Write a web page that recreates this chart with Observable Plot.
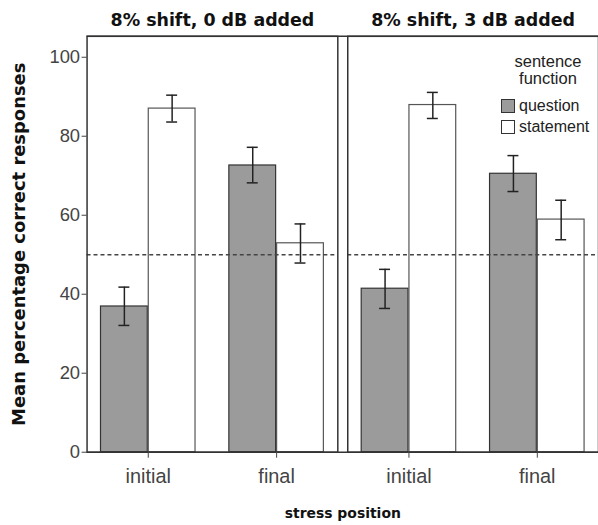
<!DOCTYPE html>
<html>
<head>
<meta charset="utf-8">
<script src="https://cdn.jsdelivr.net/npm/d3@7"></script>
<script src="https://cdn.jsdelivr.net/npm/@observablehq/plot@0.6"></script>
<style>
  html, body { margin: 0; padding: 0; overflow: hidden; background: white; }
  #wrap { position: relative; width: 598px; height: 525px; }
  #legend { position: absolute; left: 496px; top: 53px; font-family: "Liberation Sans", Arial, sans-serif; font-size: 16px; color: #222; }
  #legend .title { text-align: center; line-height: 17px; width: 100px; margin-left: 2px; font-size: 16.5px; margin-bottom: 8px; }
  #legend .row { display: flex; align-items: center; height: 21px; }
  #legend .sw { width: 12px; height: 12px; border: 1.5px solid #333; margin-right: 4px; margin-left: 5px; }
</style>
</head>
<body>
<div id="wrap"><div id="chart"></div><div id="legend"></div></div>
<script>
// ---- data ----
const panels = ["8% shift, 0 dB added", "8% shift, 3 dB added"];
const positions = ["initial", "final"];
const functions = ["question", "statement"];
// order: initial-question, initial-statement, final-question, final-statement
const mean0 = [36.9, 87.0, 72.6, 52.9];
const lower0 = [32.1, 83.6, 68.2, 47.9];
const upper0 = [41.8, 90.4, 77.2, 57.8];
const mean3 = [41.4, 87.9, 70.5, 58.9];
const lower3 = [36.4, 84.5, 66.0, 53.8];
const upper3 = [46.3, 91.1, 75.1, 63.8];
const chanceLevel = 50;
const yTicks = [0, 20, 40, 60, 80, 100];
const yLabel = "Mean percentage correct responses";
const xLabel = "stress position";
const legendTitle = ["sentence", "function"];

const fillColors = {question: "#9b9b9b", statement: "#ffffff"};
const strokeColors = {question: "#333333", statement: "#555555"};

const rows = [];
[[mean0, lower0, upper0], [mean3, lower3, upper3]].forEach(([m, lo, hi], p) => {
  positions.forEach((pos, i) => {
    functions.forEach((f, j) => {
      const k = i * 2 + j;
      rows.push({panel: panels[p], position: pos, func: f, mean: m[k], lower: lo[k], upper: hi[k]});
    });
  });
});
const q = rows.filter(d => d.func === "question");
const s = rows.filter(d => d.func === "statement");
const yTop = 105.3;
const boldFont = "'DejaVu Sans', Verdana, sans-serif";

const chart = Plot.plot({
  width: 601, height: 525,
  marginLeft: 87, marginRight: 0, marginTop: 36, marginBottom: 71,
  style: {fontFamily: "'Liberation Sans', Arial, sans-serif", fontSize: "16px", color: "#333", background: "white"},
  fx: {domain: panels, paddingInner: 0.0382, paddingOuter: 0, label: null},
  x: {domain: positions, paddingInner: 0.2615, paddingOuter: 0.1, label: null},
  y: {domain: [0, yTop], label: null},
  marks: [
    Plot.barY(q, {fx: "panel", x: "position", y: "mean", fill: fillColors.question, stroke: strokeColors.question, strokeWidth: 1.2, insetRight: 48}),
    Plot.barY(s, {fx: "panel", x: "position", y: "mean", fill: fillColors.statement, stroke: strokeColors.statement, strokeWidth: 1.2, insetLeft: 48}),
    Plot.ruleY([chanceLevel], {stroke: "#444", strokeWidth: 1.3, strokeDasharray: "4,3"}),
    Plot.ruleX(q, {fx: "panel", x: "position", y1: "lower", y2: "upper", dx: -24, stroke: "#222", strokeWidth: 1.5}),
    Plot.ruleX(s, {fx: "panel", x: "position", y1: "lower", y2: "upper", dx: 24, stroke: "#222", strokeWidth: 1.5}),
    Plot.tickY(q, {fx: "panel", x: "position", y: "upper", insetLeft: 18, insetRight: 66, stroke: "#222", strokeWidth: 1.5}),
    Plot.tickY(q, {fx: "panel", x: "position", y: "lower", insetLeft: 18, insetRight: 66, stroke: "#222", strokeWidth: 1.5}),
    Plot.tickY(s, {fx: "panel", x: "position", y: "upper", insetLeft: 66, insetRight: 18, stroke: "#222", strokeWidth: 1.5}),
    Plot.tickY(s, {fx: "panel", x: "position", y: "lower", insetLeft: 66, insetRight: 18, stroke: "#222", strokeWidth: 1.5}),
    Plot.frame({stroke: "#333", strokeWidth: 1.5}),
    Plot.ruleY([0, yTop], {stroke: "#333", strokeWidth: 1.5, insetRight: -10}),
    Plot.axisY({ticks: yTicks, tickSize: 5, tickPadding: 2, label: null, fontSize: 18.5, color: "#444"}),
    Plot.axisY({ticks: [], label: yLabel, labelAnchor: "center", labelArrow: "none", labelOffset: 75, fontFamily: boldFont, fontWeight: "bold", fontSize: 18, color: "#111"}),
    Plot.axisX({ticks: positions, tickSize: 6, tickPadding: 11, label: null, fontSize: 20, color: "#444"}),
    Plot.axisFx({anchor: "top", tickSize: 0, tickPadding: 10, label: null, fontFamily: boldFont, fontWeight: "bold", fontSize: 17.5, color: "#111"}),
    Plot.axisFx({anchor: "bottom", ticks: [], label: xLabel, labelAnchor: "center", labelArrow: "none", labelOffset: 66, fontFamily: boldFont, fontWeight: "bold", fontSize: 14, color: "#111"})
  ]
});
document.getElementById("chart").appendChild(chart);

const legend = document.getElementById("legend");
legend.innerHTML = `<div class="title">${legendTitle.join("<br>")}</div>` +
  functions.map(f => `<div class="row"><div class="sw" style="background:${fillColors[f]}"></div><span>${f}</span></div>`).join("");
</script>
</body>
</html>
